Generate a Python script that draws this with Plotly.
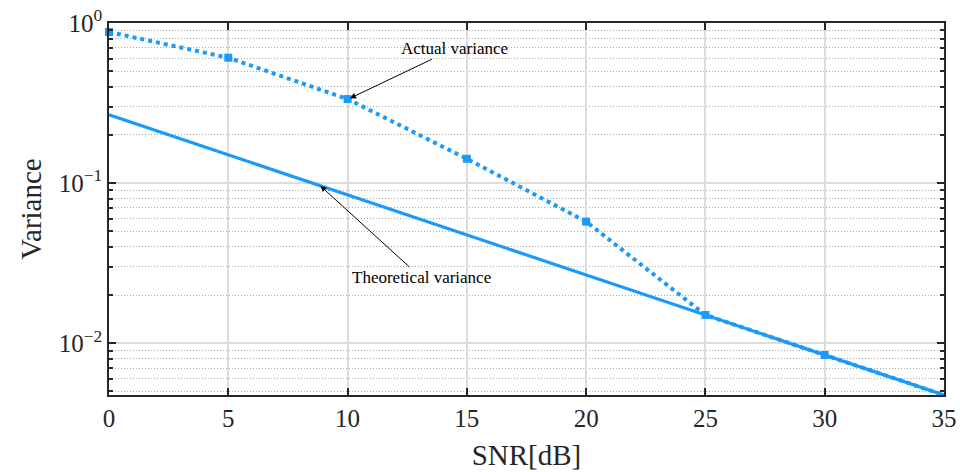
import plotly.graph_objects as go

snr_db = [0, 5, 10, 15, 20, 25, 30, 35]
actual_var = [0.878, 0.607, 0.335, 0.142, 0.0575, 0.01503, 0.00845, 0.00475]
theory_var = [0.267, 0.150, 0.0845, 0.0475, 0.0267, 0.0150, 0.00845, 0.00475]

y_tickvals = [1e-2, 1e-1, 1]
y_ticktext = ["10<sup>\u22122</sup>", "10<sup>\u22121</sup>", "10<sup>0</sup>"]
x_tickvals = [0, 5, 10, 15, 20, 25, 30, 35]

minor_vals = [m * 10.0 ** e for e in (-3, -2, -1) for m in range(2, 10)]

color = "#1A9BFA"
font_fam = "Liberation Serif, DejaVu Serif, serif"
ink = "#262626"

fig = go.Figure()
fig.add_trace(go.Scatter(
    x=snr_db, y=theory_var, mode="lines",
    line=dict(color=color, width=3.2), showlegend=False, cliponaxis=False))
fig.add_trace(go.Scatter(
    x=snr_db, y=actual_var, mode="lines+markers",
    line=dict(color=color, width=4, dash="dot"),
    marker=dict(symbol="square", size=8, color=color),
    showlegend=False, cliponaxis=False))

fig.add_annotation(x=10.1, y=-0.47, xref="x", yref="y", text="Actual variance",
                   showarrow=True, arrowhead=2, arrowsize=1.2, arrowwidth=1,
                   arrowcolor="black", ax=105, ay=-50,
                   font=dict(family=font_fam, size=17, color="black"))
fig.add_annotation(x=8.86, y=-1.017, xref="x", yref="y", text="Theoretical variance",
                   showarrow=True, arrowhead=2, arrowsize=1.2, arrowwidth=1,
                   arrowcolor="black", ax=101, ay=92,
                   font=dict(family=font_fam, size=17, color="black"))

fig.update_layout(
    width=960, height=472,
    margin=dict(l=109, r=16, t=23, b=77),
    paper_bgcolor="white", plot_bgcolor="white",
    font=dict(family=font_fam, color=ink),
    xaxis=dict(
        range=[0, 35], tickvals=x_tickvals, ticks="inside", ticklen=7,
        tickwidth=1.5, tickcolor=ink, automargin=False,
        showline=True, linecolor=ink, linewidth=1.5, mirror="ticks",
        showgrid=True, gridcolor="#dcdcdc", gridwidth=1.5, zeroline=False,
        tickfont=dict(size=25, family=font_fam, color=ink),
        title=dict(text="SNR[dB]", font=dict(size=29, family=font_fam, color=ink), standoff=14),
    ),
    yaxis=dict(
        type="log", range=[-2.323, 0], tickvals=y_tickvals, ticktext=y_ticktext,
        ticks="inside", ticklen=7, tickwidth=1.5, tickcolor=ink, automargin=False,
        showline=True, linecolor=ink, linewidth=1.5, mirror="ticks",
        showgrid=True, gridcolor="#dcdcdc", gridwidth=1.5, zeroline=False,
        tickfont=dict(size=25, family=font_fam, color=ink),
        title=dict(text="Variance", font=dict(size=29, family=font_fam, color=ink), standoff=8),
        minor=dict(tickvals=minor_vals, ticks="inside", ticklen=4, tickcolor=ink,
                   showgrid=True, griddash="1px,2px", gridcolor="#aaaaaa", gridwidth=1),
    ),
)

fig.write_html("out.html")
